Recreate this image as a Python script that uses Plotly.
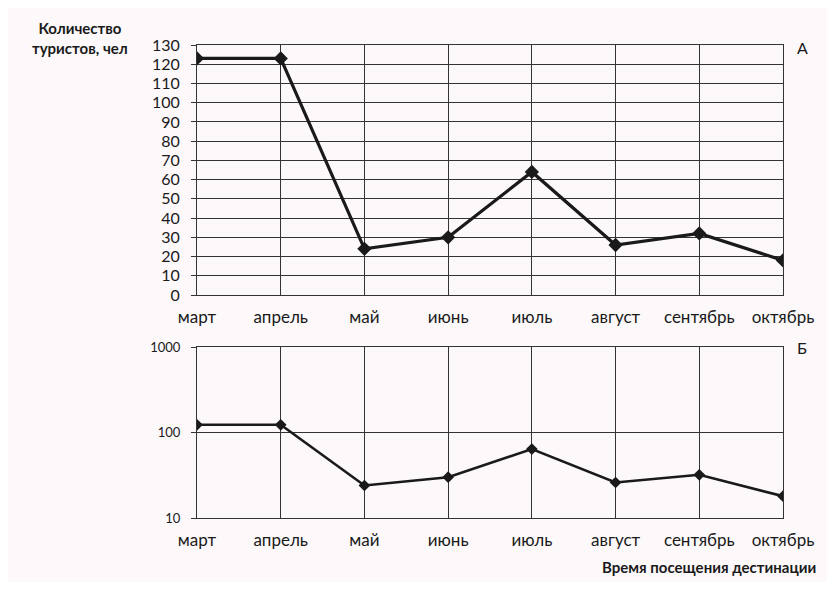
import plotly.graph_objects as go

months = ["март", "апрель", "май", "июнь", "июль", "август", "сентябрь", "октябрь"]
tourists = [123, 123, 24, 30, 64, 26, 32, 18]
top_ticks = list(range(0, 131, 10))
log_ticks = [10, 100, 1000]

OFF = 8  # page body margin
W, H = 835 - 2 * OFF, 590 - 2 * OFF
def px_x(p): return (p - OFF) / W
def px_y(p): return 1 - (p - OFF) / H

bg = "#fdf9fb"
font = "Lato, Open Sans, sans-serif"
ink = "#1a1a1a"

fig = go.Figure()
fig.add_trace(go.Scatter(x=months, y=tourists, mode="lines+markers",
                         line=dict(color=ink, width=3.2),
                         marker=dict(symbol="diamond", size=11, color=ink),
                         xaxis="x", yaxis="y", showlegend=False))
fig.add_trace(go.Scatter(x=months, y=tourists, mode="lines+markers",
                         line=dict(color=ink, width=2.6),
                         marker=dict(symbol="diamond", size=9, color=ink),
                         xaxis="x2", yaxis="y2", showlegend=False))

xdom = [px_x(197), px_x(783)]
common_x = dict(domain=xdom, type="category", range=[0, 7],
                showgrid=True, gridcolor="#333", gridwidth=1,
                showline=True, linecolor="#333", linewidth=1, mirror=True,
                ticks="", ticklabelstandoff=7, automargin=False,
                tickfont=dict(family=font, size=17, color=ink),
                zeroline=False, fixedrange=True)
common_y = dict(showgrid=True, gridcolor="#333", gridwidth=1,
                showline=True, linecolor="#333", linewidth=1, mirror=True,
                ticks="outside", ticklen=5, tickcolor="#333", automargin=False,
                ticklabelstandoff=8, zeroline=False, fixedrange=True)

fig.update_layout(
    width=W, height=H,
    margin=dict(l=0, r=0, t=0, b=0),
    paper_bgcolor=bg, plot_bgcolor=bg,
    xaxis=dict(common_x, anchor="y"),
    yaxis=dict(common_y, domain=[px_y(295), px_y(45)], range=[0, 130], tickvals=top_ticks,
               tickfont=dict(family=font, size=16, color=ink), anchor="x"),
    xaxis2=dict(common_x, anchor="y2"),
    yaxis2=dict(common_y, domain=[px_y(518), px_y(347)], type="log", range=[1, 3],
                tickvals=log_ticks, ticktext=[str(v) for v in log_ticks],
                tickfont=dict(family=font, size=13, color=ink), anchor="x2"),
    annotations=[
        dict(text="<b>Количество<br>туристов, чел</b>", x=px_x(80), y=px_y(17),
             xref="paper", yref="paper", xanchor="center", yanchor="top",
             showarrow=False, align="center", font=dict(family=font, size=15, color=ink)),
        dict(text="А", x=px_x(795), y=px_y(47), xref="paper", yref="paper",
             xanchor="left", yanchor="middle", showarrow=False,
             font=dict(family=font, size=16, color=ink)),
        dict(text="Б", x=px_x(795), y=px_y(347), xref="paper", yref="paper",
             xanchor="left", yanchor="middle", showarrow=False,
             font=dict(family=font, size=16, color=ink)),
        dict(text="<b>Время посещения дестинации</b>", x=px_x(818), y=px_y(567),
             xref="paper", yref="paper", xanchor="right", yanchor="middle",
             showarrow=False, font=dict(family=font, size=15, color=ink)),
    ],
)

fig.write_html("out.html")
